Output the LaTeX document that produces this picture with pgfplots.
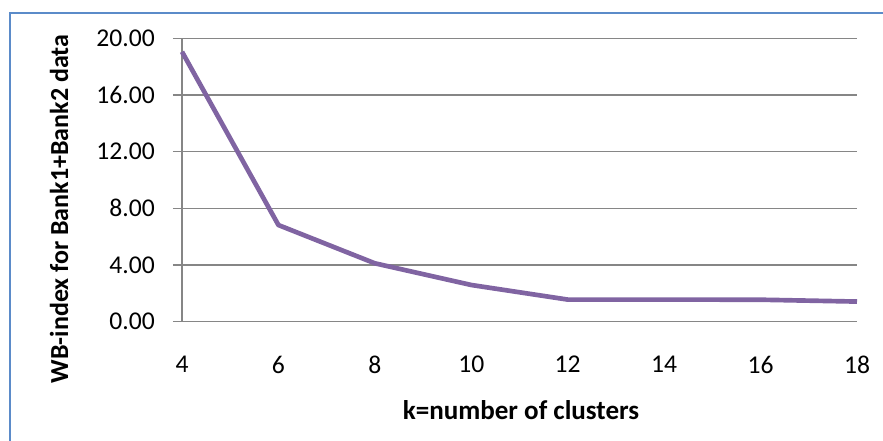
\documentclass[border=0pt]{standalone}
\usepackage{fontspec}
\setmainfont{Carlito}
\usepackage{pgfplots}
\pgfplotsset{compat=1.18}
\definecolor{linepurple}{HTML}{8064A2}
\definecolor{gridgray}{HTML}{868686}
\definecolor{frameblue}{HTML}{5B8BC9}
\begin{document}
\begin{tikzpicture}
\useasboundingbox (0,0) rectangle (662.25pt,330.75pt);
\draw[frameblue, line width=1.3pt] (7.5pt,0pt) -- (7.5pt,321pt) -- (662.25pt,321pt);
\begin{axis}[
  at={(136.5pt,89.475pt)}, anchor=south west,
  scale only axis, width=506.25pt, height=212.55pt,
  xmin=4, xmax=18, ymin=0, ymax=20,
  xtick={4,6,...,18}, ytick={0,4,...,20},
  axis lines*=left,
  axis line style={gridgray, line width=0.8pt},
  ymajorgrids, grid style={gridgray, line width=0.8pt},
  xtick style={draw=none},
  ytick style={gridgray, line width=0.8pt},
  major tick length=6.75pt, tick align=outside,
  /pgf/number format/assume math mode=true,
  tick label style={font=\fontsize{19.2}{22}\selectfont, inner sep=0pt},
  yticklabel style={/pgf/number format/fixed, /pgf/number format/fixed zerofill, /pgf/number format/precision=2, xshift=-13.5pt},
  xticklabel style={yshift=-19pt},
  clip=false,
]
\addplot[linepurple, line width=3.5pt, line join=round] coordinates {
 (4,19.05) (6,6.82) (8,4.12) (10,2.59) (12,1.56) (14,1.56) (16,1.55) (18,1.42)
};
\end{axis}
\node[font=\fontsize{20.3}{24}\selectfont\bfseries] at (390.75pt,23.25pt) {k=number of clusters};
\node[font=\fontsize{19.5}{23}\selectfont\bfseries, rotate=90] at (44.25pt,174pt) {WB-index for Bank1+Bank2 data};
\end{tikzpicture}
\end{document}
